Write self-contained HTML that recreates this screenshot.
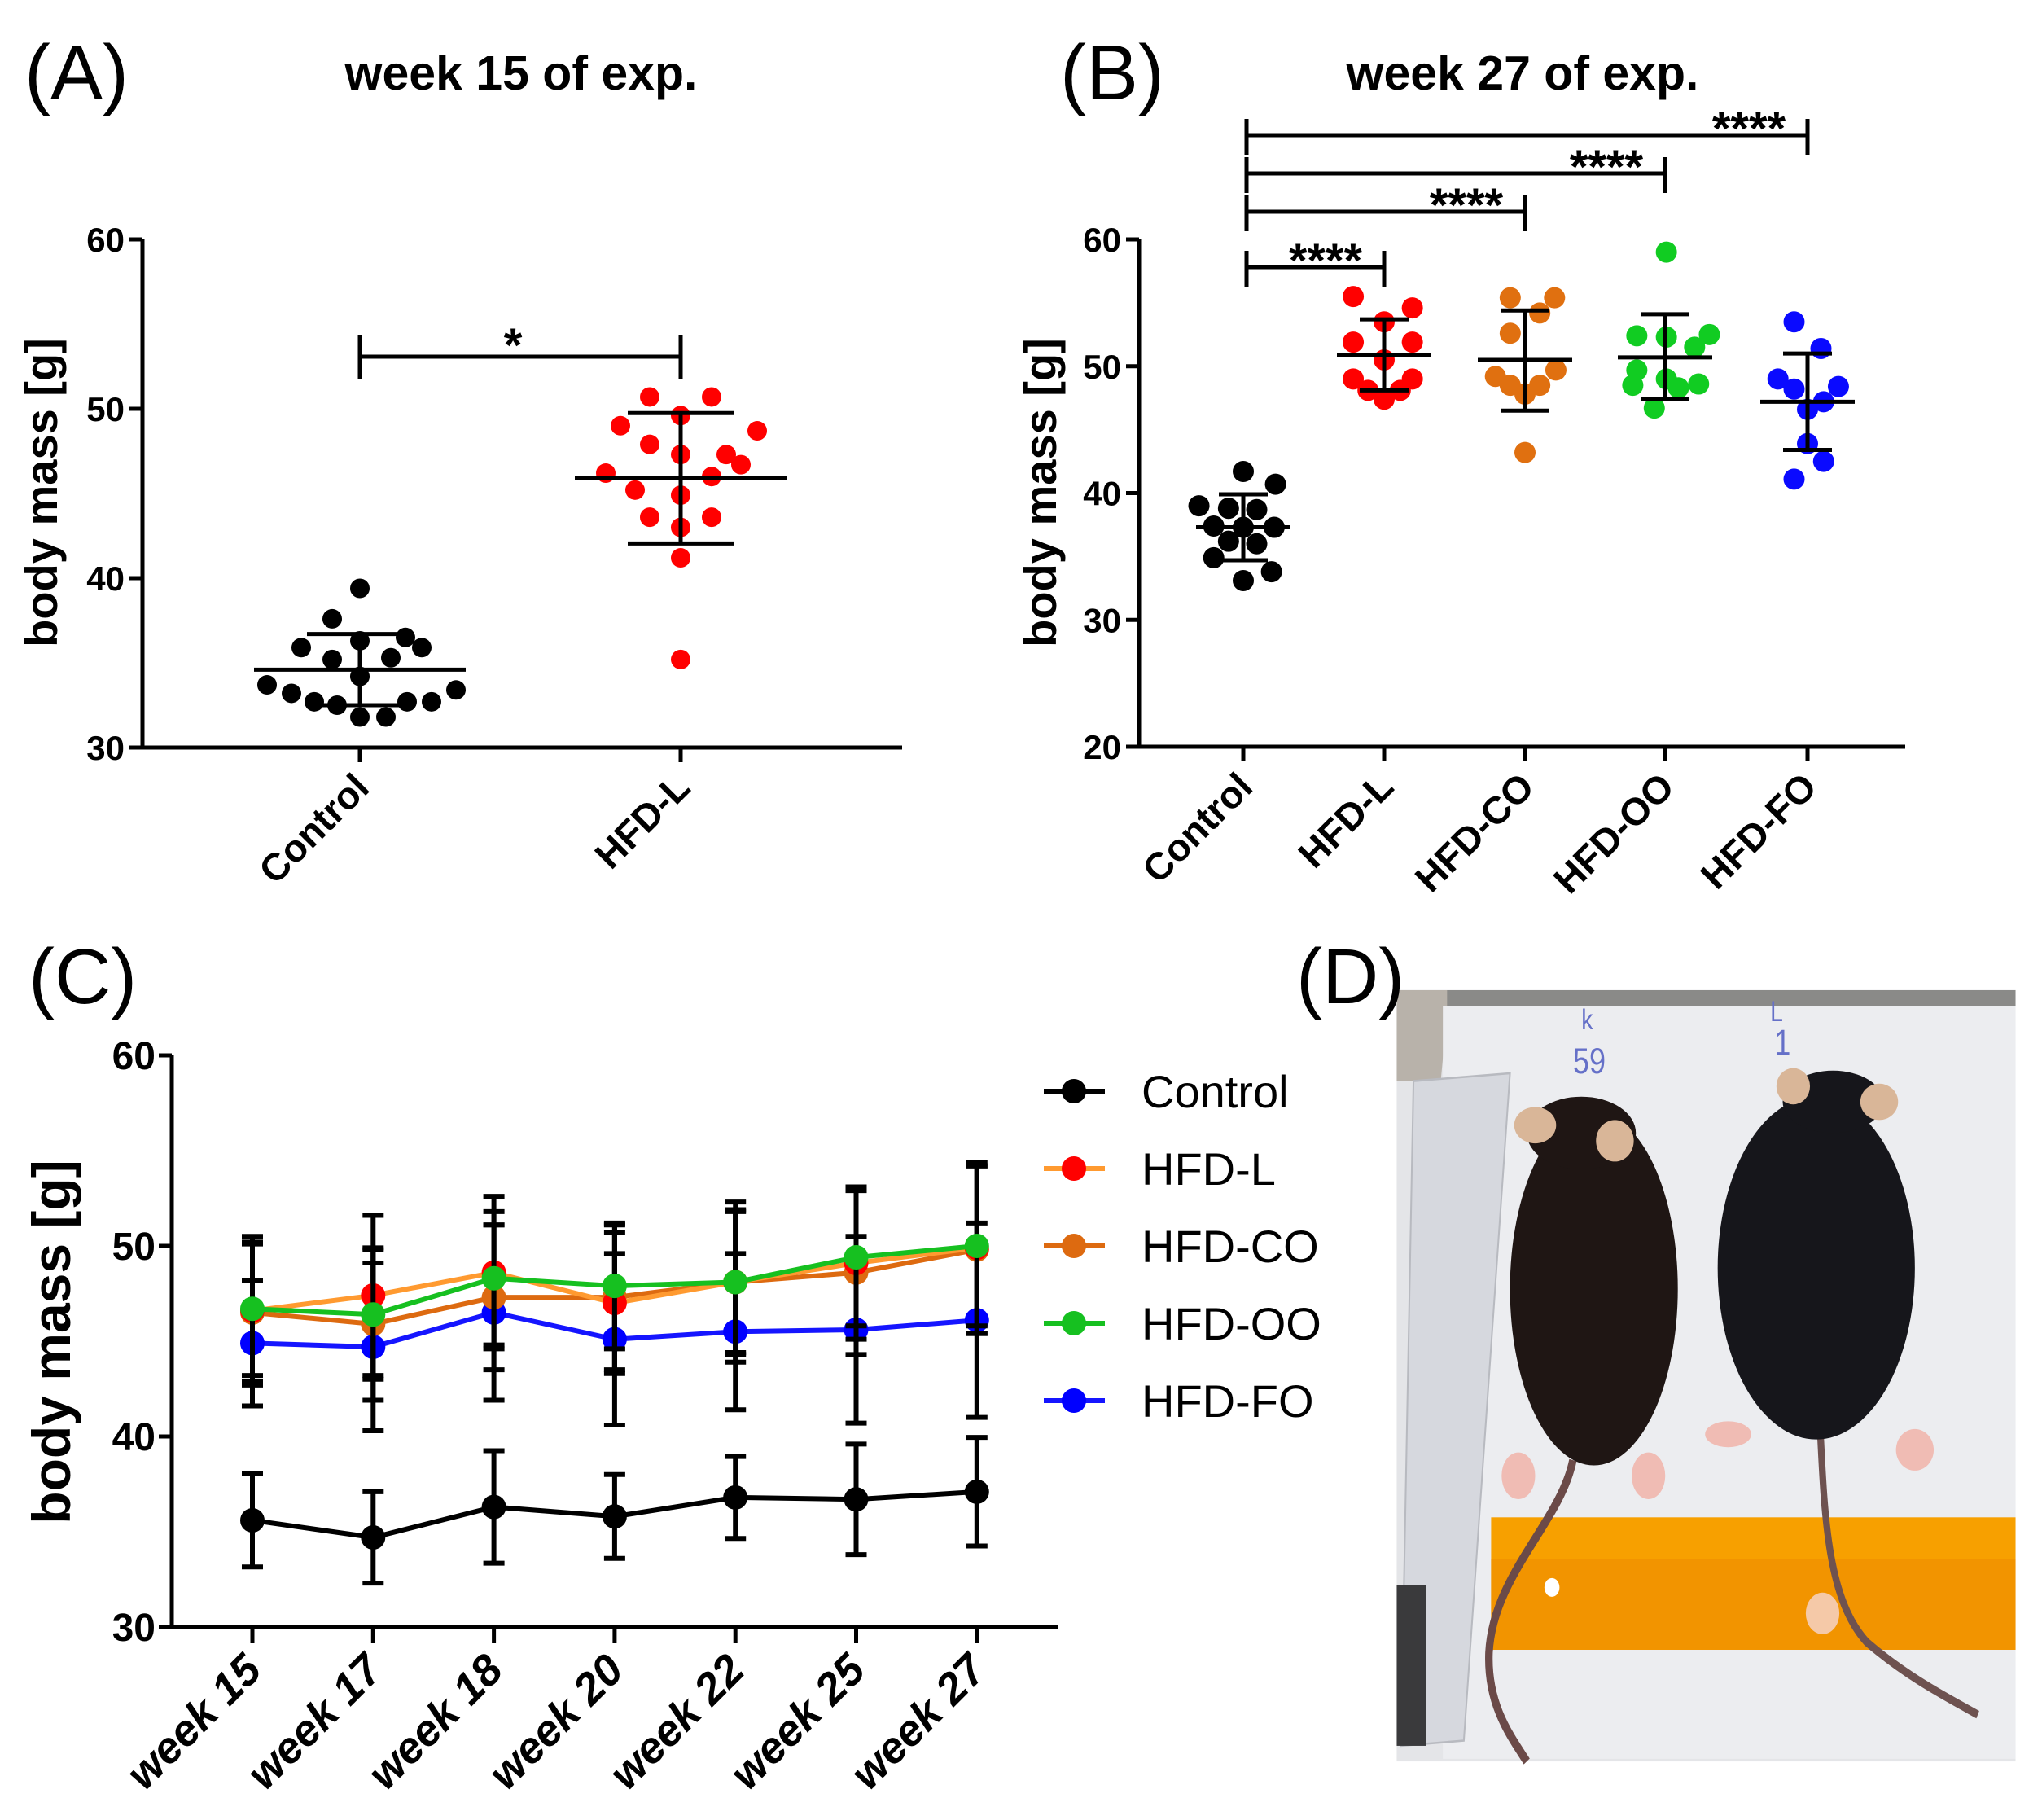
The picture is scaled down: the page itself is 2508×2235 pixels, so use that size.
<!DOCTYPE html>
<html><head><meta charset="utf-8"><style>
html,body{margin:0;padding:0;background:#fff;width:2508px;height:2235px;overflow:hidden}
svg{display:block;font-family:"Liberation Sans",Arial,sans-serif}
</style></head><body>
<svg id="fig" width="2508" height="2235" viewBox="0 0 2508 2235" xmlns="http://www.w3.org/2000/svg">
<g id="photo" transform="translate(1700,1200) scale(0.5153,0.6378)">
  <rect x="30" y="25" width="1475" height="1485" fill="#e4e5e8"/>
  <rect x="30" y="25" width="1475" height="30" fill="#8a8a88"/>
  <polygon points="30,25 150,25 150,70 135,200 30,200" fill="#b8b2aa"/>
  <rect x="140" y="55" width="1365" height="1450" fill="#ecedf0"/>
  <polygon points="70,200 300,185 190,1470 40,1480" fill="#d6d8de" stroke="#b8bac0" stroke-width="4"/>
  <rect x="30" y="1170" width="70" height="310" fill="#3a3a3c"/>
  <rect x="255" y="1040" width="1250" height="255" fill="#f7a000"/>
  <rect x="255" y="1120" width="1250" height="175" fill="#f29400"/>
  <circle cx="400" cy="1175" r="18" fill="#fff"/>
  <circle cx="1045" cy="1225" r="40" fill="#f5c9a8"/>
  <text x="450" y="185" font-size="70" fill="#6570c8">59</text>
  <text x="470" y="100" font-size="55" fill="#6570c8">k</text>
  <text x="930" y="150" font-size="70" fill="#6570c8">1</text>
  <text x="920" y="85" font-size="55" fill="#6570c8">L</text>
  <path d="M450,930 C420,1050 260,1150 250,1300 C245,1400 300,1460 340,1510" fill="none" stroke="#6b4a48" stroke-width="18"/>
  <path d="M1040,880 C1050,1050 1060,1200 1150,1280 C1250,1350 1350,1390 1415,1420" fill="none" stroke="#6e5250" stroke-width="16"/>
  <ellipse cx="320" cy="960" rx="40" ry="45" fill="#f0bcb4"/>
  <ellipse cx="630" cy="960" rx="40" ry="45" fill="#f0bcb4"/>
  <ellipse cx="820" cy="880" rx="55" ry="25" fill="#f0bcb4"/>
  <ellipse cx="1265" cy="910" rx="45" ry="40" fill="#f0bcb4"/>
  <ellipse cx="500" cy="600" rx="200" ry="340" fill="#1f1614"/>
  <ellipse cx="470" cy="300" rx="130" ry="70" fill="#1f1614"/>
  <ellipse cx="360" cy="285" rx="50" ry="35" fill="#d9b698"/>
  <ellipse cx="550" cy="315" rx="45" ry="40" fill="#d9b698"/>
  <ellipse cx="1030" cy="560" rx="235" ry="330" fill="#16161b"/>
  <ellipse cx="1070" cy="240" rx="120" ry="60" fill="#16161b"/>
  <ellipse cx="975" cy="210" rx="40" ry="35" fill="#d9b698"/>
  <ellipse cx="1180" cy="240" rx="45" ry="35" fill="#d9b698"/>
</g>
<g id="plots"></g>
</svg>
<script>
// ---------- Panel A data ----------
const aCategories = ["Control", "HFD-L"];
const aControl = [39.4,37.6,35.9,35.2,36.3,35.3,36.5,35.9,34.2,33.7,33.2,32.7,32.5,31.8,31.8,32.7,32.7,33.4];
const aControlJit = [0,-0.17,-0.36,-0.17,0,0.19,0.28,0.38,0,-0.57,-0.42,-0.28,-0.14,0,0.16,0.29,0.44,0.59];
const aHfdL = [50.7,50.7,49.6,49.0,48.7,47.9,47.3,47.3,46.7,46.2,46.0,45.2,44.9,43.6,43.6,43.0,41.2,35.2];
const aHfdLJit = [-0.19,0.19,0,-0.37,0.47,-0.19,0,0.28,0.37,-0.46,0.19,-0.28,0,-0.19,0.19,0,0,0];
const aMean = [34.6, 45.9];
const aSD = [2.1, 3.85];
const aTicks = [30,40,50,60];
// ---------- Panel B data ----------
const bCategories = ["Control","HFD-L","HFD-CO","HFD-OO","HFD-FO"];
const bControl = [41.7,40.7,39.0,38.8,38.7,37.4,37.3,37.3,36.2,36.0,34.9,33.8,33.1];
const bControlJit = [0,0.24,-0.33,-0.11,0.10,-0.22,0,0.23,-0.11,0.10,-0.22,0.21,0];
const bHfdL = [55.5,54.6,53.5,51.9,51.9,50.5,49.0,49.0,48.1,48.1,47.4];
const bHfdLJit = [-0.23,0.21,0,-0.23,0.21,0,-0.23,0.21,-0.12,0.12,0];
const bHfdCO = [55.4,55.4,54.2,52.6,49.2,49.7,48.5,48.5,47.8,43.2];
const bHfdCOJit = [-0.11,0.22,0.11,-0.11,-0.22,0.23,-0.11,0.11,0,0];
const bHfdOO = [59.0,52.4,52.3,52.5,51.5,49.7,49.0,48.5,48.6,48.3,46.7];
const bHfdOOJit = [0.01,-0.21,0.01,0.33,0.22,-0.21,0.01,-0.24,0.25,0.1,-0.08];
const bHfdFO = [53.5,51.4,49.0,48.2,48.4,46.6,47.2,43.9,42.5,41.1];
const bHfdFOJit = [-0.1,0.1,-0.22,-0.1,0.23,0,0.12,0,0.12,-0.1];
const bMean = [37.3,50.9,50.5,50.7,47.2];
const bSDup = [39.9,53.7,54.4,54.1,51.0];
const bSDlo = [34.7,48.1,46.5,47.4,43.4];
const bTicks = [20,30,40,50,60];
// ---------- Panel C data ----------
const cWeeks = ["week 15","week 17","week 18","week 20","week 22","week 25","week 27"];
const cControl = [35.6,34.7,36.3,35.8,36.8,36.7,37.1];
const cControlSD = [2.45,2.4,2.95,2.2,2.15,2.9,2.85];
const cHfdL = [46.6,47.4,48.6,47.0,48.1,49.1,49.9];
const cHfdLSD = [3.9,4.2,4.0,3.7,4.2,4.0,4.5];
const cHfdCO = [46.5,45.9,47.3,47.3,48.1,48.6,49.8];
const cHfdCOSD = [3.6,4.0,3.8,3.8,3.7,4.3,4.4];
const cHfdOO = [46.7,46.4,48.3,47.9,48.1,49.4,50.0];
const cHfdOOSD = [3.5,3.4,3.5,3.3,3.8,3.6,4.2];
const cHfdFO = [44.9,44.7,46.5,45.1,45.5,45.6,46.1];
const cHfdFOSD = [3.3,4.4,4.6,4.5,4.1,4.9,5.1];
const cTicks = [30,40,50,60];

const NS="http://www.w3.org/2000/svg";
const root=document.getElementById('plots');
function mk(tag,attrs,parent){const e=document.createElementNS(NS,tag);for(const k in attrs)e.setAttribute(k,attrs[k]);(parent||root).appendChild(e);return e;}
function line(x1,y1,x2,y2,w,c,p){return mk('line',{x1,y1,x2,y2,stroke:c||'#000','stroke-width':w||5},p);}
function txt(x,y,s,size,opts,p){const t=mk('text',Object.assign({x,y,'font-size':size},opts||{}),p);t.textContent=s;return t;}

let t;
t=txt(30,122,"(A)",96,{});
t=txt(1302,122,"(B)",96,{});
t=txt(35,1232,"(C)",96,{});
t=txt(1592,1232,"(D)",96,{});

// ---------------- Panel A ----------------
(function(){
  const g=mk('g',{});
  
  
  const X0=175,Y0=918,Y1=294,XE=1108,vmin=30,vmax=60;
  const catX=[442,836], band=200;
  const y=v=>Y0-(v-vmin)/(vmax-vmin)*(Y0-Y1);
  const x=(i,j)=>catX[i]+j*band;
  line(X0,Y1,X0,Y0+2,5,'#000',g);
  line(X0-2,Y0,XE,Y0,5,'#000',g);
  aTicks.forEach(v=>{line(X0-16,y(v),X0,y(v),5,'#000',g);
    const tl=txt(X0-22,y(v)+15,String(v),42,{'font-weight':'bold','text-anchor':'end'},g);
    
    });
  aCategories.forEach((c,i)=>{line(catX[i],Y0,catX[i],Y0+18,5,'#000',g);
    const tl=txt(catX[i]+14,Y0+52,c,47,{'font-weight':'bold','text-anchor':'end',transform:`rotate(-45 ${catX[i]+14} ${Y0+52})`},g);
    
    });
  const yt=txt(70,605,"body mass [g]",56,{'font-weight':'bold','text-anchor':'middle',transform:'rotate(-90 70 605)'},g);
  
  
  const tt=txt(640,110,"week 15 of exp.",59,{'font-weight':'bold','text-anchor':'middle'},g);
  
  
  const series=[[aControl,aControlJit,'#000'],[aHfdL,aHfdLJit,'#ff0000']];
  series.forEach((s,i)=>{s[0].forEach((v,k)=>{const c=mk('circle',{cx:x(i,s[1][k]),cy:y(v),r:12,fill:s[2]},g);
    
    });});
  aMean.forEach((m,i)=>{
    line(catX[i]-130,y(m),catX[i]+130,y(m),5,'#000',g);
    line(catX[i],y(m+aSD[i]),catX[i],y(m-aSD[i]),5,'#000',g);
    line(catX[i]-65,y(m+aSD[i]),catX[i]+65,y(m+aSD[i]),5,'#000',g);
    line(catX[i]-65,y(m-aSD[i]),catX[i]+65,y(m-aSD[i]),5,'#000',g);
  });
  const sb=mk('g',{},g);
  
  
  line(catX[0],438,catX[1],438,5,'#000',sb);
  line(catX[0],412,catX[0],466,5,'#000',sb);
  line(catX[1],412,catX[1],466,5,'#000',sb);
  txt(630,444,"*",58,{'font-weight':'bold','text-anchor':'middle'},sb);
})();

// ---------------- Panel B ----------------
(function(){
  const g=mk('g',{});
  
  
  const X0=1399,Y0=917,Y1=294,XE=2340,vmin=20,vmax=60;
  const catX=[1527,1700,1873,2045,2220], band=165;
  const y=v=>Y0-(v-vmin)/(vmax-vmin)*(Y0-Y1);
  line(X0,Y1,X0,Y0+2,5,'#000',g);
  line(X0-2,Y0,XE,Y0,5,'#000',g);
  bTicks.forEach(v=>{line(X0-16,y(v),X0,y(v),5,'#000',g);
    const tl=txt(X0-22,y(v)+15,String(v),42,{'font-weight':'bold','text-anchor':'end'},g);
    
    });
  bCategories.forEach((c,i)=>{line(catX[i],Y0,catX[i],Y0+18,5,'#000',g);
    const tl=txt(catX[i]+14,Y0+52,c,47,{'font-weight':'bold','text-anchor':'end',transform:`rotate(-45 ${catX[i]+14} ${Y0+52})`},g);
    
    });
  const yt=txt(1297,605,"body mass [g]",56,{'font-weight':'bold','text-anchor':'middle',transform:'rotate(-90 1297 605)'},g);
  
  
  const tt=txt(1870,110,"week 27 of exp.",59,{'font-weight':'bold','text-anchor':'middle'},g);
  
  
  const series=[[bControl,bControlJit,'#000'],[bHfdL,bHfdLJit,'#ff0000'],[bHfdCO,bHfdCOJit,'#e07010'],[bHfdOO,bHfdOOJit,'#11cc22'],[bHfdFO,bHfdFOJit,'#0a0aff']];
  series.forEach((s,i)=>{s[0].forEach((v,k)=>{const c=mk('circle',{cx:catX[i]+s[1][k]*band,cy:y(v),r:13,fill:s[2]},g);
    
    });});
  bMean.forEach((m,i)=>{
    line(catX[i]-58,y(m),catX[i]+58,y(m),5,'#000',g);
    line(catX[i],y(bSDup[i]),catX[i],y(bSDlo[i]),5,'#000',g);
    line(catX[i]-30,y(bSDup[i]),catX[i]+30,y(bSDup[i]),5,'#000',g);
    line(catX[i]-30,y(bSDlo[i]),catX[i]+30,y(bSDlo[i]),5,'#000',g);
  });
  const barY=[328,260,213,166];
  [1,2,3,4].forEach((j,k)=>{
    const sb=mk('g',{},g);
    
    
    const by=barY[k];
    line(1531,by,catX[j],by,5,'#000',sb);
    line(1531,by-20,1531,by+24,5,'#000',sb);
    line(catX[j],by-20,catX[j],by+24,5,'#000',sb);
    txt(catX[j]-72,by+12,"****",58,{'font-weight':'bold','text-anchor':'middle'},sb);
  });
})();

// ---------------- Panel C ----------------
(function(){
  const g=mk('g',{});
  
  
  const X0=211,Y0=1998,Y1=1296,XE=1300,vmin=30,vmax=60;
  const wx0=310, wstep=148.3;
  const y=v=>Y0-(v-vmin)/(vmax-vmin)*(Y0-Y1);
  const x=i=>wx0+i*wstep;
  line(X0,Y1,X0,Y0+2,5,'#000',g);
  line(X0-2,Y0,XE,Y0,5,'#000',g);
  cTicks.forEach(v=>{line(X0-16,y(v),X0,y(v),5,'#000',g);
    const tl=txt(X0-20,y(v)+17,String(v),48,{'font-weight':'bold','text-anchor':'end'},g);
    
    });
  cWeeks.forEach((w,i)=>{line(x(i),Y0,x(i),Y0+20,5,'#000',g);
    const tl=txt(x(i)+14,Y0+56,w,54,{'font-weight':'bold','font-style':'italic','text-anchor':'end',transform:`rotate(-45 ${x(i)+14} ${Y0+56})`},g);
    
    });
  const yt=txt(86,1648,"body mass [g]",66,{'font-weight':'bold','text-anchor':'middle',transform:'rotate(-90 86 1648)'},g);
  
  
  const series=[
    ['Control',cControl,cControlSD,'#000','#000'],
    ['HFD-FO',cHfdFO,cHfdFOSD,'#1515ff','#0000ff'],
    ['HFD-CO',cHfdCO,cHfdCOSD,'#dd6a10','#dd6a10'],
    ['HFD-L',cHfdL,cHfdLSD,'#ff9a30','#ff0000'],
    ['HFD-OO',cHfdOO,cHfdOOSD,'#16c020','#16c020']];
  series.forEach(s=>{
    const sg=mk('g',{},g);
    
    
    s[1].forEach((v,i)=>{
      line(x(i),y(v+s[2][i]),x(i),y(v-s[2][i]),6,'#000',sg);
      line(x(i)-13,y(v+s[2][i]),x(i)+13,y(v+s[2][i]),6,'#000',sg);
      line(x(i)-13,y(v-s[2][i]),x(i)+13,y(v-s[2][i]),6,'#000',sg);
    });
    mk('polyline',{points:s[1].map((v,i)=>x(i)+','+y(v)).join(' '),fill:'none',stroke:s[3],'stroke-width':6},sg);
    s[1].forEach((v,i)=>{const c=mk('circle',{cx:x(i),cy:y(v),r:15,fill:s[4]},sg);
      
      });
  });
  const leg=[['Control','#000','#000'],['HFD-L','#ff9a30','#ff0000'],['HFD-CO','#dd6a10','#dd6a10'],['HFD-OO','#16c020','#16c020'],['HFD-FO','#1515ff','#0000ff']];
  leg.forEach((l,i)=>{
    const ly=1340+i*95;
    const lg=mk('g',{},g);
    
    
    line(1282,ly,1357,ly,6,l[1],lg);
    mk('circle',{cx:1319,cy:ly,r:15,fill:l[2]},lg);
    txt(1402,ly+20,l[0],56,{},lg);
  });
})();
</script>
</body></html>
